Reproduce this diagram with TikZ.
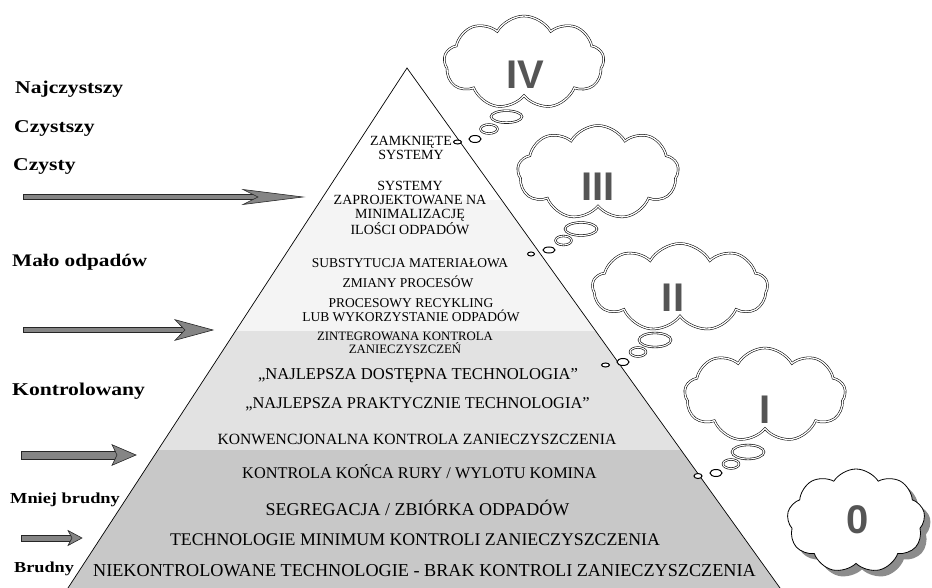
\documentclass[tikz,border=0pt]{standalone}
\usepackage{fontspec}
\newfontfamily\pyrfont{Liberation Serif}
\newfontfamily\sidefont[FakeStretch=1.2]{Liberation Serif}
\newfontfamily\numfont{Liberation Sans}
\usetikzlibrary{shapes.symbols,shapes.geometric,shadows}
\definecolor{bandtop}{HTML}{F4F4F4}
\definecolor{bandmid}{HTML}{E2E2E2}
\definecolor{bandlow}{HTML}{C8C8C8}
\definecolor{numgray}{HTML}{555555}
\definecolor{arrowfill}{HTML}{858585}
\newcommand{\pyrsize}[1]{\pyrfont\fontsize{#1}{#1}\selectfont}
% start x, tip x, y, half shaft, head length, head half, notch
\newcommand{\levelarrow}[7]{%
  \draw[arrowbody] (#1,#3-#4) rectangle (#2-#5+#7,#3+#4);
  \draw[arrowbody] (#2-#5,#3-#6) -- (#2,#3) -- (#2-#5,#3+#6) -- (#2-#5+#7,#3) -- cycle;}
\begin{document}
\begin{tikzpicture}[x=1pt,y=-1pt,
  tier/.style={font=\pyrsize{#1}, anchor=base, inner sep=0pt},
  block/.style={font=\pyrsize{#1}, align=center, inner sep=0pt},
  side/.style={font=\sidefont\bfseries\fontsize{#1}{#1}\selectfont, anchor=base west, inner sep=0pt},
  numeral/.style={font=\numfont\bfseries\fontsize{40}{40}\selectfont, text=numgray, inner sep=0pt},
  thought/.style={cloud, cloud puffs=9, cloud puff arc=120, cloud ignores aspect, draw, line width=0.55pt, double=white, double distance=1.3pt, fill=white, inner sep=0pt},
  bubble/.style={ellipse, draw, line width=0.6pt, double=white, double distance=1.1pt, fill=white, inner sep=0pt},
  dot/.style={ellipse, draw, line width=1pt, fill=white, inner sep=0pt},
  arrowbody/.style={draw=black!85, line width=0.6pt, fill=arrowfill}]
\useasboundingbox (0,0) rectangle (932,588);
\coordinate (apex) at (407,68);
\coordinate (baseL) at (68,588);
\coordinate (baseR) at (780,588);
\begin{scope}
\clip (apex) -- (baseR) -- (baseL) -- cycle;
\fill[bandtop] (0,200) rectangle (932,331);
\fill[bandmid] (0,331) rectangle (932,450);
\fill[bandlow] (0,450) rectangle (932,588);
\end{scope}
\draw[line width=0.7pt] (baseL) -- (apex) -- (baseR);

\node[block=14] (zamk) at (411,147.5) {ZAMKNIĘTE\\SYSTEMY};
\node[block=14] (proj) at (410,208) {SYSTEMY\\ZAPROJEKTOWANE NA\\MINIMALIZACJĘ\\ILOŚCI ODPADÓW};
\node[tier=13.5] (subs) at (410,267.3) {SUBSTYTUCJA MATERIAŁOWA};
\node[tier=13.5] (zmia) at (408,287.3) {ZMIANY PROCESÓW};
\node[block=13.5] (recy) at (411,310) {PROCESOWY RECYKLING\\LUB WYKORZYSTANIE ODPADÓW};
\node[block=12.8] (zint) at (405,342.5) {ZINTEGROWANA KONTROLA\\ZANIECZYSZCZEŃ};
\node[tier=16.6] (bat) at (418,379) {„NAJLEPSZA DOSTĘPNA TECHNOLOGIA”};
\node[tier=16.4] (bpt) at (417.5,408) {„NAJLEPSZA PRAKTYCZNIE TECHNOLOGIA”};
\node[tier=15.6] (konw) at (417,444) {KONWENCJONALNA KONTROLA ZANIECZYSZCZENIA};
\node[tier=16.3] (rury) at (419.5,478) {KONTROLA KOŃCA RURY / WYLOTU KOMINA};
\node[tier=18] (segr) at (417.5,515) {SEGREGACJA / ZBIÓRKA ODPADÓW};
\node[tier=17.8] (mini) at (415,545) {TECHNOLOGIE MINIMUM KONTROLI ZANIECZYSZCZENIA};
\node[tier=18.2] (niek) at (424.5,576) {NIEKONTROLOWANE TECHNOLOGIE - BRAK KONTROLI ZANIECZYSZCZENIA};

\node[side=18] (najc) at (15,94) {Najczystszy};
\node[side=18] (czst) at (14,133) {Czystszy};
\node[side=18] (czys) at (13,171) {Czysty};
\node[side=17.7] (malo) at (12,267) {Mało odpadów};
\node[side=18] (kont) at (12,395) {Kontrolowany};
\node[side=15.3] (mnie) at (10,503) {Mniej brudny};
\node[side=15.2] (brud) at (14,572) {Brudny};

\levelarrow{23}{303}{197}{2.2}{60}{7.5}{15}
\levelarrow{23}{213}{330}{2.7}{38}{10.3}{10}
\levelarrow{21}{136}{455}{3.8}{24}{10.3}{5}
\levelarrow{21}{82}{538}{2.8}{14}{7.5}{4}

\node[thought, minimum width=160pt, minimum height=93pt] (cIV) at (524,62.5) {};
\node[numeral] (nIV) at (525,75) {IV};
\node[bubble, minimum width=31pt, minimum height=12pt] (bIVa) at (506.5,116.7) {};
\node[bubble, minimum width=17pt, minimum height=9pt] (bIVb) at (489,129) {};
\node[dot, minimum width=12pt, minimum height=7pt] (bIVc) at (475,139) {};
\node[dot, minimum width=8pt, minimum height=4pt] (bIVd) at (457.5,142) {};

\node[thought, minimum width=161pt, minimum height=94pt] (cIII) at (598,172.5) {};
\node[numeral] (nIII) at (598,187) {III};
\node[bubble, minimum width=32pt, minimum height=13pt] (bIIIa) at (581,229) {};
\node[bubble, minimum width=16pt, minimum height=9pt] (bIIIb) at (563.5,240.5) {};
\node[dot, minimum width=12pt, minimum height=6pt] (bIIIc) at (549,250) {};
\node[dot, minimum width=7pt, minimum height=4pt] (bIIId) at (531,254) {};

\node[thought, minimum width=175pt, minimum height=88pt] (cII) at (680,287.5) {};
\node[numeral] (nII) at (673,298) {II};
\node[bubble, minimum width=32pt, minimum height=14pt] (bIIa) at (655,340) {};
\node[bubble, minimum width=16pt, minimum height=9pt] (bIIb) at (638,352) {};
\node[dot, minimum width=12pt, minimum height=7pt] (bIIc) at (623,362) {};
\node[dot, minimum width=8pt, minimum height=4pt] (bIId) at (605.5,365) {};

\node[thought, minimum width=161pt, minimum height=94pt] (cI) at (765,395) {};
\node[numeral] (nI) at (765,410) {I};
\node[bubble, minimum width=32pt, minimum height=14pt] (bIa) at (748,452) {};
\node[bubble, minimum width=16pt, minimum height=9pt] (bIb) at (731,464) {};
\node[dot, minimum width=12pt, minimum height=7pt] (bIc) at (716,473) {};
\node[dot, minimum width=8pt, minimum height=5pt] (bId) at (698,476) {};

\node[cloud, cloud puffs=9, cloud puff arc=115, cloud ignores aspect, draw, line width=0.8pt, fill=white,
  minimum width=138pt, minimum height=104pt, inner sep=0pt,
  drop shadow={shadow xshift=6pt, shadow yshift=-6pt, fill=black!45, opacity=1}] (c0) at (856,521) {};
\node[numeral] (n0) at (858,520) {0};
\end{tikzpicture}
\end{document}
